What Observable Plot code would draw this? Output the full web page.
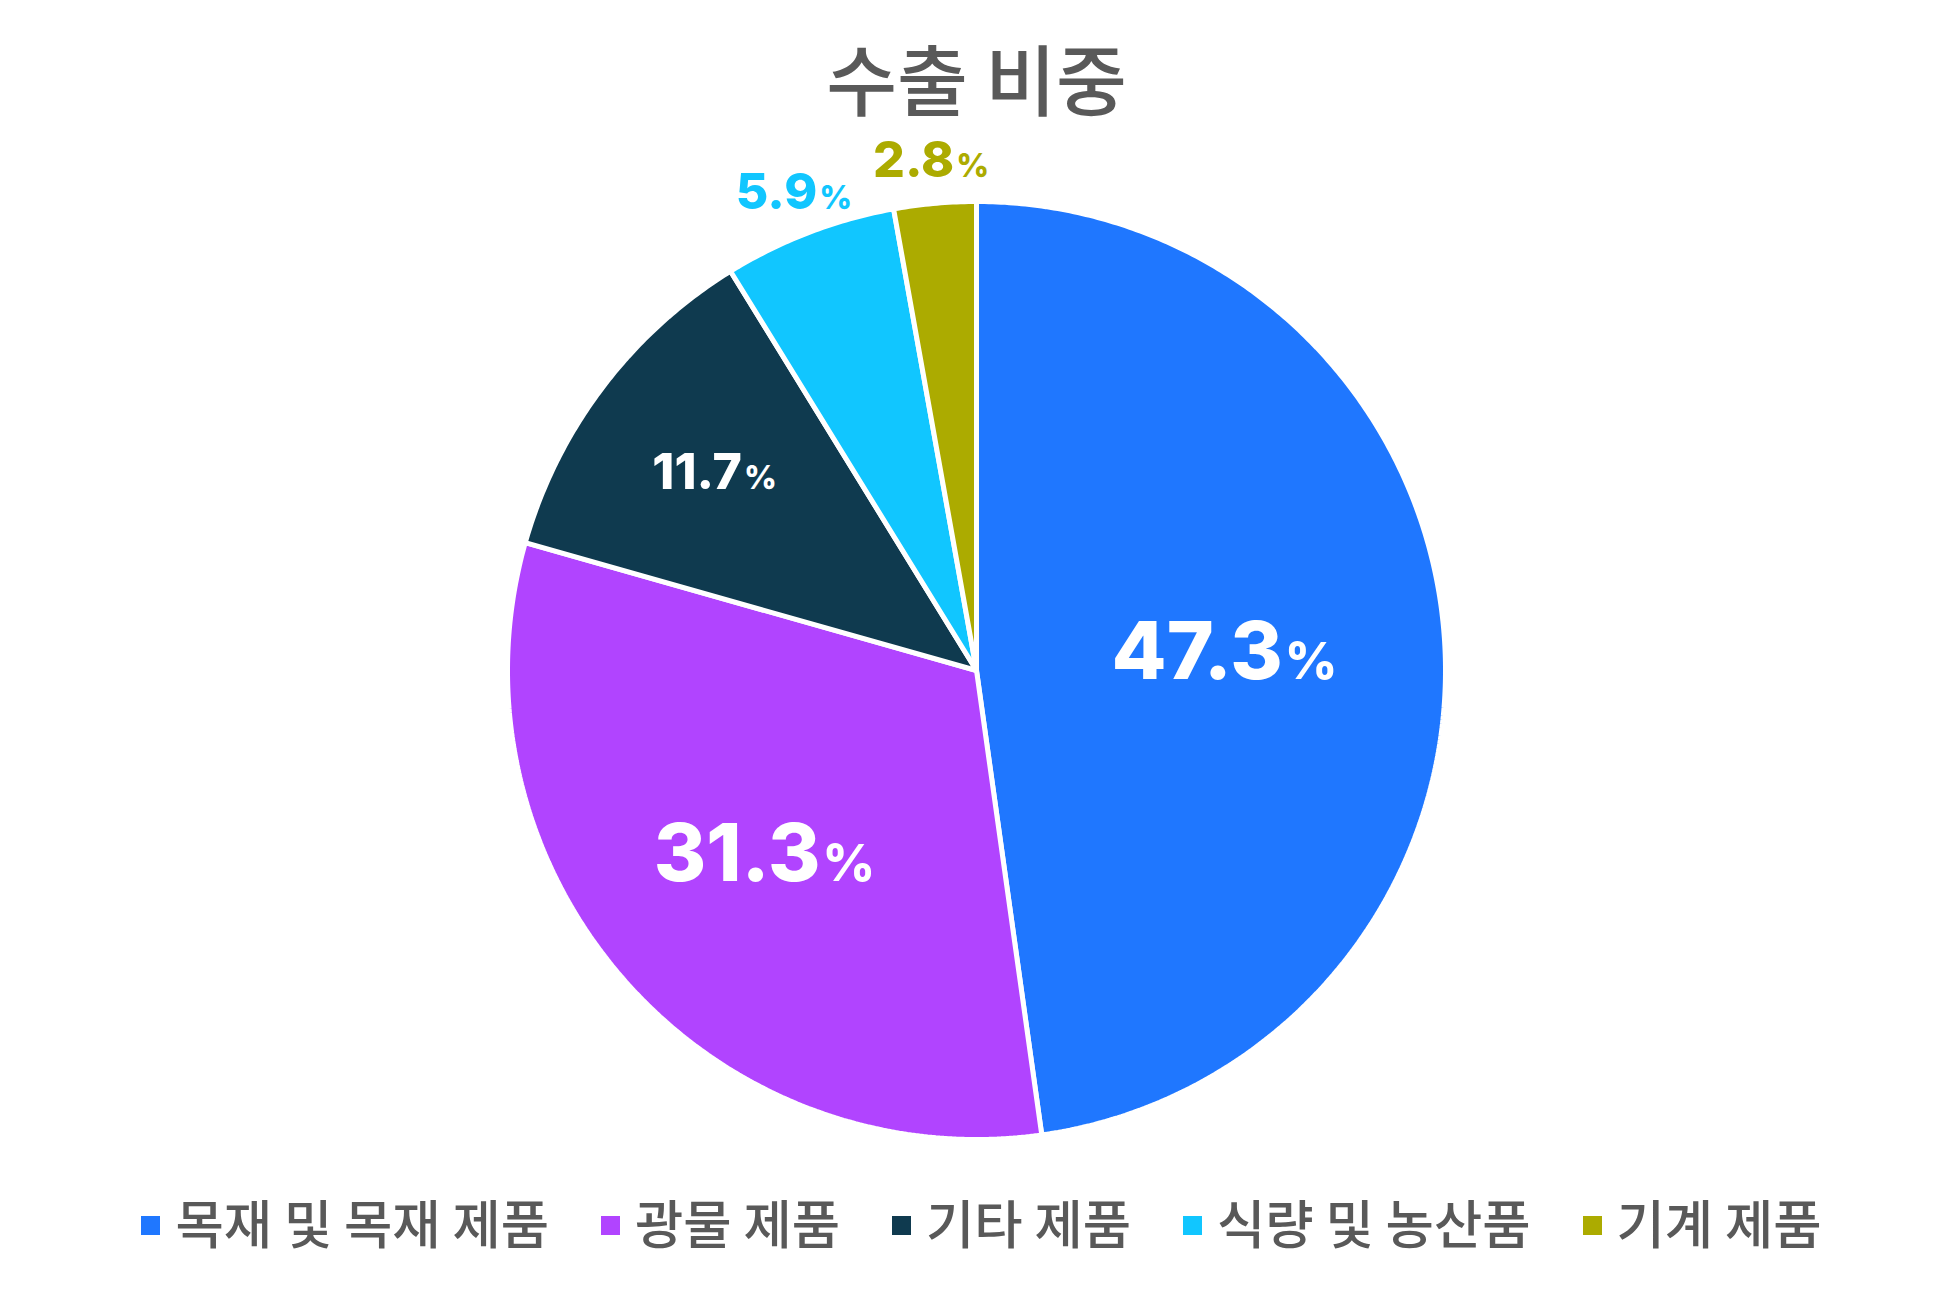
<!DOCTYPE html>
<html>
<head>
<meta charset="utf-8">
<script src="https://cdn.jsdelivr.net/npm/d3@7"></script>
<script src="https://cdn.jsdelivr.net/npm/@observablehq/plot@0.6"></script>
<style>
  body { margin: 0; background: #fff; width: 1953px; height: 1302px; overflow: hidden;
         font-family: "Noto Sans CJK KR", sans-serif; }
  #title { height: 130px; box-sizing: border-box; padding-top: 38px; text-align: center;
           font-size: 77px; line-height: 77px; color: #595959; font-weight: 500; }
  #chart { height: 1050px; }
  #chart svg { display: block; }
  #legend { display: flex; justify-content: center; align-items: center; gap: 52px;
            height: 100px; padding-left: 10px; box-sizing: border-box; padding-bottom: 18px; }
  .item { display: flex; align-items: center; font-size: 52.5px; line-height: 64px; color: #595959; font-weight: 500; }
  .sw { width: 19px; height: 19px; margin-right: 15px; margin-top: 8px; }
</style>
</head>
<body>
<div id="title"></div>
<div id="chart"></div>
<div id="legend"></div>
<script>
const chartTitle = "수출 비중";
const categories = ["목재 및 목재 제품", "광물 제품", "기타 제품", "식량 및 농산품", "기계 제품"];
const shares = [47.3, 31.3, 11.7, 5.9, 2.8];
const colors = ["#1F77FF", "#B144FF", "#0F3A4F", "#11C6FF", "#ACAB00"];

document.getElementById("title").textContent = chartTitle;

const rows = categories.map((c, i) => ({cat: c, share: shares[i]}));
const arcs = d3.pie().sort(null).value(d => d.share)(rows);

// slice outlines: center -> arc -> center, in unit-circle data space (y up)
const slicePts = [];
for (const a of arcs) {
  const n = Math.max(2, Math.ceil((a.endAngle - a.startAngle) / (Math.PI / 360)));
  slicePts.push({cat: a.data.cat, x: 0, y: 0});
  for (let k = 0; k <= n; k++) {
    const t = a.startAngle + (a.endAngle - a.startAngle) * k / n;
    slicePts.push({cat: a.data.cat, x: Math.sin(t), y: Math.cos(t)});
  }
  slicePts.push({cat: a.data.cat, x: 0, y: 0});
}

const labels = arcs.map(a => {
  const mid = (a.startAngle + a.endAngle) / 2;
  const s = a.data.share;
  const r = s >= 40 ? 0.53 : s >= 20 ? 0.60 : s >= 10 ? 0.70 : 1.09;
  return {cat: a.data.cat, share: s, inside: s >= 10,
          x: r * Math.sin(mid), y: r * Math.cos(mid),
          text: d3.format(".1f")(s) + "%"};
});

const plot = Plot.plot({
  width: 1953,
  height: 1050,
  marginLeft: 507,
  marginRight: 508,
  marginTop: 71,
  marginBottom: 41,
  x: {domain: [-1, 1], axis: null},
  y: {domain: [-1, 1], axis: null},
  color: {domain: categories, range: colors},
  style: {background: "white", overflow: "visible"},
  marks: [
    Plot.line(slicePts, {x: "x", y: "y", z: "cat", fill: "cat", stroke: "white",
                         strokeWidth: 5, strokeLinejoin: "miter", curve: "linear"}),
    Plot.text(labels.filter(d => d.inside), {x: "x", y: "y", text: "text", fill: "white",
      fontSize: d => d.share >= 20 ? 80 : 50, fontWeight: 800,
      fontFamily: "Inter, Roboto, sans-serif", textAnchor: "middle", lineAnchor: "middle"}),
    Plot.text(labels.filter(d => !d.inside), {x: "x", y: "y", text: "text", fill: "cat",
      fontSize: 50, fontWeight: 800,
      fontFamily: "Inter, Roboto, sans-serif", textAnchor: "middle", lineAnchor: "middle"})
  ]
});
document.getElementById("chart").appendChild(plot);

// smaller percent sign
plot.querySelectorAll("text").forEach(t => {
  const s = t.textContent;
  if (s.endsWith("%")) {
    t.textContent = s.slice(0, -1);
    const ts = document.createElementNS("http://www.w3.org/2000/svg", "tspan");
    ts.setAttribute("style", "font-size:64%");
    ts.setAttribute("dx", "2");
    ts.textContent = "%";
    t.appendChild(ts);
  }
});

const legend = document.getElementById("legend");
categories.forEach((c, i) => {
  const it = document.createElement("div");
  it.className = "item";
  const sw = document.createElement("span");
  sw.className = "sw";
  sw.style.background = colors[i];
  const tx = document.createElement("span");
  tx.textContent = c;
  it.appendChild(sw); it.appendChild(tx);
  legend.appendChild(it);
});
</script>
</body>
</html>
